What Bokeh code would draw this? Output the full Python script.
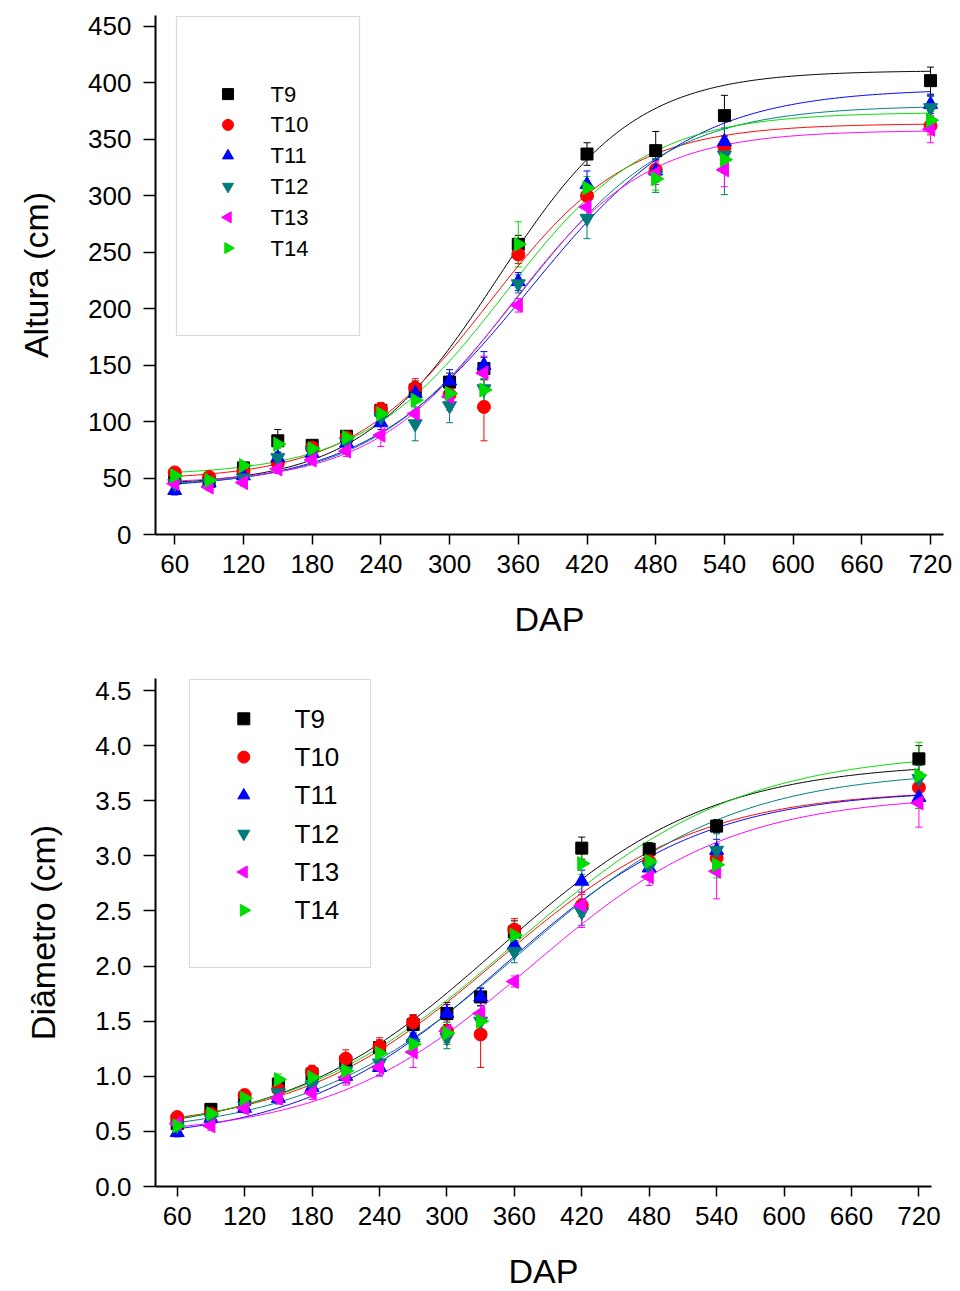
import numpy as np
from bokeh.plotting import figure
from bokeh.layouts import column
from bokeh.models import (ColumnDataSource, Whisker, TeeHead, FixedTicker,
                          BoxAnnotation, Range1d, PrintfTickFormatter)
from bokeh.core.properties import value
from bokeh.embed import file_html
from bokeh.resources import INLINE

# ---------------- data ----------------
days = [60, 90, 120, 150, 180, 210, 240, 270, 300, 330, 360, 420, 480, 540, 720]
series = ["T9", "T10", "T11", "T12", "T13", "T14"]

# Altura (cm)
alt_T9 = [50, 47, 59, 83, 79, 87, 110, 128, 135, 147, 257, 337, 340, 371, 402]
alt_T10 = [55, 51, 56, 63, 77, 86, 111, 130, 124, 113, 248, 300, 323, 343, 362]
alt_T11 = [39, 46, 52, 68, 72, 81, 99, 125, 136, 150, 224, 310, 322, 348, 381]
alt_T12 = [45, 46, 50, 68, 74, 82, 104, 98, 114, 129, 222, 280, 318, 336, 378]
alt_T13 = [45, 42, 46, 58, 66, 74, 88, 107, 122, 143, 203, 290, 320, 323, 359]
alt_T14 = [52, 48, 61, 80, 76, 86, 107, 119, 125, 128, 257, 307, 315, 332, 367]

alt_err_T9 = [3, 3, 3, 10, 4, 5, 6, 8, 8, 10, 8, 10, 17, 18, 12]
alt_err_T10 = [4, 3, 3, 4, 4, 5, 6, 8, 8, 30, 8, 10, 8, 10, 8]
alt_err_T11 = [4, 3, 3, 4, 4, 5, 6, 8, 10, 12, 8, 12, 10, 12, 8]
alt_err_T12 = [4, 3, 3, 4, 4, 5, 6, 15, 15, 12, 8, 18, 15, 35, 10]
alt_err_T13 = [4, 3, 3, 4, 4, 5, 10, 10, 12, 15, 6, 12, 10, 15, 12]
alt_err_T14 = [4, 3, 3, 4, 4, 5, 6, 8, 10, 10, 20, 10, 10, 12, 8]

# Boltzmann fit parameters (A1, A2, x0, dx) for Altura
alt_fit_T9 = (43, 411, 342, 60)
alt_fit_T10 = (48, 364, 335, 61)
alt_fit_T11 = (40, 395, 370, 72)
alt_fit_T12 = (42, 380, 360, 66)
alt_fit_T13 = (45, 358, 352, 60)
alt_fit_T14 = (52, 374, 348, 62)

# Diametro (cm)
dia_T9 = [0.57, 0.70, 0.79, 0.93, 1.02, 1.13, 1.26, 1.47, 1.57, 1.72, 2.31, 3.07, 3.06, 3.27, 3.88]
dia_T10 = [0.63, 0.66, 0.83, 0.88, 1.04, 1.16, 1.27, 1.49, 1.41, 1.38, 2.33, 2.55, 2.95, 2.98, 3.62]
dia_T11 = [0.49, 0.62, 0.71, 0.80, 0.90, 1.00, 1.08, 1.35, 1.57, 1.72, 2.19, 2.77, 2.89, 3.05, 3.53]
dia_T12 = [0.55, 0.62, 0.73, 0.85, 0.92, 1.05, 1.12, 1.30, 1.35, 1.50, 2.13, 2.49, 2.90, 3.05, 3.70]
dia_T13 = [0.57, 0.55, 0.71, 0.80, 0.85, 0.99, 1.08, 1.22, 1.41, 1.57, 1.86, 2.55, 2.81, 2.86, 3.48]
dia_T14 = [0.55, 0.66, 0.80, 0.97, 0.99, 1.05, 1.21, 1.29, 1.39, 1.50, 2.28, 2.93, 2.95, 2.92, 3.73]

dia_err_T9 = [0.03, 0.03, 0.04, 0.05, 0.05, 0.06, 0.07, 0.08, 0.10, 0.08, 0.10, 0.10, 0.06, 0.06, 0.12]
dia_err_T10 = [0.03, 0.03, 0.05, 0.05, 0.06, 0.08, 0.08, 0.07, 0.10, 0.30, 0.10, 0.10, 0.08, 0.10, 0.12]
dia_err_T11 = [0.04, 0.03, 0.04, 0.05, 0.05, 0.06, 0.07, 0.08, 0.08, 0.08, 0.08, 0.10, 0.08, 0.10, 0.10]
dia_err_T12 = [0.04, 0.03, 0.04, 0.05, 0.05, 0.06, 0.07, 0.10, 0.10, 0.08, 0.10, 0.12, 0.08, 0.15, 0.12]
dia_err_T13 = [0.04, 0.04, 0.04, 0.05, 0.06, 0.07, 0.08, 0.14, 0.12, 0.10, 0.05, 0.20, 0.08, 0.25, 0.22]
dia_err_T14 = [0.04, 0.03, 0.04, 0.05, 0.05, 0.06, 0.07, 0.08, 0.10, 0.10, 0.10, 0.10, 0.08, 0.12, 0.30]

dia_fit_T9 = (0.45, 3.85, 345, 95)
dia_fit_T10 = (0.50, 3.60, 345, 90)
dia_fit_T11 = (0.40, 3.60, 350, 90)
dia_fit_T12 = (0.45, 3.78, 365, 95)
dia_fit_T13 = (0.45, 3.55, 375, 90)
dia_fit_T14 = (0.45, 3.95, 360, 100)

x_ticks = [60, 120, 180, 240, 300, 360, 420, 480, 540, 600, 660, 720]
alt_ticks = [0, 50, 100, 150, 200, 250, 300, 350, 400, 450]
dia_ticks = [0.0, 0.5, 1.0, 1.5, 2.0, 2.5, 3.0, 3.5, 4.0, 4.5]

alt_vals = [alt_T9, alt_T10, alt_T11, alt_T12, alt_T13, alt_T14]
alt_errs = [alt_err_T9, alt_err_T10, alt_err_T11, alt_err_T12, alt_err_T13, alt_err_T14]
alt_fits = [alt_fit_T9, alt_fit_T10, alt_fit_T11, alt_fit_T12, alt_fit_T13, alt_fit_T14]
dia_vals = [dia_T9, dia_T10, dia_T11, dia_T12, dia_T13, dia_T14]
dia_errs = [dia_err_T9, dia_err_T10, dia_err_T11, dia_err_T12, dia_err_T13, dia_err_T14]
dia_fits = [dia_fit_T9, dia_fit_T10, dia_fit_T11, dia_fit_T12, dia_fit_T13, dia_fit_T14]

# ---------------- styles ----------------
colors = ["#000000", "#ff0000", "#0000ff", "#007b7b", "#ff00ff", "#00dd00"]
markers = ["square", "circle", "triangle", "inverted_triangle", "triangle", "triangle"]
angles = [0, 0, 0, 0, np.pi / 2, -np.pi / 2]
msizes = [12, 13, 14, 14, 14, 14]
FONT = "Liberation Sans"


def boltzmann(x, a1, a2, x0, dx):
    return a2 + (a1 - a2) / (1.0 + np.exp((x - x0) / dx))


def make_panel(vals, errs, fits, yticks, yrange, ylabel, frame_w, frame_h,
               borders, xrange, leg, box, ylab_standoff, yfmt=None):
    bl, br, bt, bb = borders
    p = figure(frame_width=frame_w, frame_height=frame_h,
               x_range=Range1d(*xrange), y_range=Range1d(*yrange),
               output_backend="svg", toolbar_location=None,
               min_border_left=bl, min_border_right=br,
               min_border_top=bt, min_border_bottom=bb)
    p.outline_line_color = None
    p.grid.visible = False
    p.background_fill_color = "white"

    # pixel (relative to frame) -> data helpers for the legend block
    def dx_(px):
        return xrange[0] + px * (xrange[1] - xrange[0]) / frame_w

    def dy_(py_from_top):
        return yrange[1] - py_from_top * (yrange[1] - yrange[0]) / frame_h

    xg = np.linspace(60, 720, 300)
    for i, s in enumerate(series):
        c = colors[i]
        a1, a2, x0, dx = fits[i]
        p.line(xg, boltzmann(xg, a1, a2, x0, dx), line_color=c, line_width=1)
    for i, s in enumerate(series):
        c = colors[i]
        v = np.array(vals[i], dtype=float)
        e = np.array(errs[i], dtype=float)
        src = ColumnDataSource(dict(x=days, y=v, upper=v + e, lower=v - e))
        w = Whisker(source=src, base="x", upper="upper", lower="lower",
                    line_color=c, line_width=1,
                    upper_head=TeeHead(size=7, line_color=c, line_width=1),
                    lower_head=TeeHead(size=7, line_color=c, line_width=1))
        p.add_layout(w)
        p.scatter("x", "y", source=src, marker=markers[i], size=msizes[i],
                  angle=angles[i], fill_color=c, line_color=c)

    # legend block (frame-relative pixel layout)
    mx, lx, y0, step, fsize, msz = leg
    for i, s in enumerate(series):
        yy = dy_(y0 + i * step)
        p.scatter([dx_(mx)], [yy], marker=markers[i], size=msz, angle=angles[i],
                  fill_color=colors[i], line_color=colors[i])
        p.text([dx_(lx)], [yy], text=[s], text_font=value(FONT),
               text_font_size=fsize, text_baseline="middle", text_align="left",
               text_color="black")
    l, r_, t, b = box
    p.add_layout(BoxAnnotation(left=l, right=r_, top=t, bottom=b,
                               left_units="screen", right_units="screen",
                               top_units="screen", bottom_units="screen",
                               fill_alpha=0, line_color="#808080", line_width=1.2))

    for ax in (p.xaxis, p.yaxis):
        ax.axis_line_color = "black"
        ax.axis_line_width = 2
        ax.major_tick_line_color = "black"
        ax.major_tick_line_width = 1.5
        ax.minor_tick_line_color = None
        ax.major_tick_in = 0
        ax.major_label_text_font = FONT
        ax.major_label_text_font_size = "26px"
        ax.major_label_text_color = "black"
        ax.axis_label_text_font = FONT
        ax.axis_label_text_font_style = "normal"
        ax.axis_label_text_color = "black"

    p.xaxis.ticker = FixedTicker(ticks=x_ticks)
    p.xaxis.major_tick_out = 10
    p.xaxis.major_label_standoff = 10
    p.xaxis.axis_label = "DAP"
    p.xaxis.axis_label_text_font_size = "34px"
    p.xaxis.axis_label_standoff = 24

    p.yaxis.ticker = FixedTicker(ticks=yticks)
    if yfmt:
        p.yaxis.formatter = PrintfTickFormatter(format=yfmt)
    p.yaxis.major_tick_out = 12
    p.yaxis.major_label_standoff = 12
    p.yaxis.axis_label = ylabel
    p.yaxis.axis_label_text_font_size = "34px"
    p.yaxis.axis_label_standoff = ylab_standoff
    return p


# legend layout: (marker x, label x, first row y, row step) in px relative to frame top-left
p1 = make_panel(alt_vals, alt_errs, alt_fits, alt_ticks, (0, 459.7), "Altura (cm)",
                788, 519, (155, 17, 15, 111), (43.2, 731.3),
                (72.5, 115, 78.6, 30.8, "22px", 11),
                (21, 204, 518, 199), 30)
p2 = make_panel(dia_vals, dia_errs, dia_fits, dia_ticks, (0, 4.609), "Diâmetro (cm)",
                776, 508, (155, 29, 33, 105), (40.7, 731.2),
                (88.3, 139, 40.3, 38.3, "26px", 12),
                (34, 215, 507, 219), 30, yfmt="%.1f")

layout = column(p1, p2, spacing=0)
open("out.html", "w").write(file_html(layout, INLINE))
